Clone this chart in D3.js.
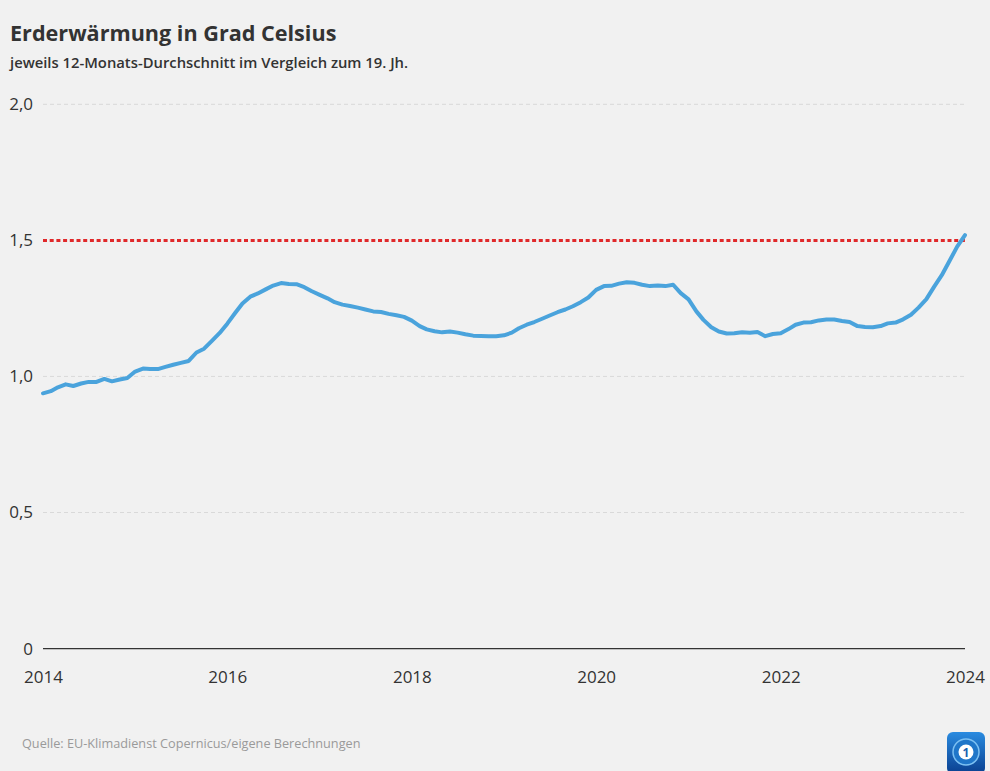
<!DOCTYPE html>
<html>
<head>
<meta charset="utf-8">
<script src="https://cdn.jsdelivr.net/npm/d3@7"></script>
<style>
  body { margin: 0; background-color: #f1f1f1; }
  text { font-family: "Open Sans", "Noto Sans", sans-serif; }
</style>
</head>
<body>
<script>

// Monatswerte ab Januar 2014 (12-Monats-Mittel, Grad über 19. Jh.)
var startMonth = "2014-01";
var values = [
  0.938, 0.946, 0.960, 0.971, 0.965, 0.974, 0.980, 0.980, 0.991, 0.982, 0.989, 0.994,
  1.018, 1.029, 1.027, 1.027, 1.035, 1.043, 1.050, 1.057, 1.088, 1.102, 1.131, 1.159,
  1.194, 1.233, 1.268, 1.293, 1.305, 1.320, 1.334, 1.343, 1.340, 1.339, 1.328, 1.313,
  1.300, 1.287, 1.273, 1.264, 1.259, 1.253, 1.246, 1.239, 1.237, 1.230, 1.225, 1.219,
  1.205, 1.185, 1.173, 1.166, 1.162, 1.165, 1.161, 1.155, 1.150, 1.149, 1.148, 1.148,
  1.151, 1.161, 1.177, 1.190, 1.200, 1.212, 1.224, 1.236, 1.246, 1.258, 1.273, 1.290,
  1.318, 1.332, 1.333, 1.341, 1.346, 1.344, 1.337, 1.332, 1.334, 1.332, 1.337, 1.306,
  1.283, 1.239, 1.208, 1.181, 1.165, 1.158, 1.159, 1.162, 1.161, 1.163, 1.148, 1.156,
  1.159, 1.174, 1.190, 1.198, 1.199, 1.206, 1.209, 1.209, 1.204, 1.200, 1.185, 1.182,
  1.181, 1.185, 1.195, 1.198, 1.210, 1.227, 1.253, 1.284, 1.330, 1.372, 1.425, 1.477,
  1.519
];

var yTicks = [0, 0.5, 1.0, 1.5, 2.0];
var xTickYears = [2014, 2016, 2018, 2020, 2022, 2024];
var limit = 1.5;

var title = "Erderwärmung in Grad Celsius";
var subtitle = "jeweils 12-Monats-Durchschnitt im Vergleich zum 19. Jh.";
var source = "Quelle: EU-Klimadienst Copernicus/eigene Berechnungen";

var wx = 990,
    hy = 771;

var svg = d3.select("body")
    .append("svg")
    .attr("width", wx)
    .attr("height", hy);

svg.append("rect")
    .attr("width", wx)
    .attr("height", hy)
    .attr("fill", "#f1f1f1");

var parseMonth = d3.timeParse("%Y-%m");
var t0 = parseMonth(startMonth);
var data = values.map(function(v, i) {
  return { date: d3.timeMonth.offset(t0, i), value: v };
});

var x = d3.scaleTime()
    .domain([new Date(2014, 0, 1), new Date(2024, 0, 1)])
    .range([43, 965]);

var y = d3.scaleLinear()
    .domain([0, 2])
    .range([648.6, 104.3]);

// Titel
svg.append("text")
    .attr("x", 10)
    .attr("y", 41)
    .attr("font-size", 21.6)
    .attr("font-weight", 700)
    .attr("fill", "#333")
    .text(title);

svg.append("text")
    .attr("x", 10)
    .attr("y", 68)
    .attr("font-size", 14.8)
    .attr("font-weight", 600)
    .attr("fill", "#333")
    .text(subtitle);

// Gitterlinien
svg.append("g")
    .selectAll("line")
    .data(yTicks.filter(function(d) { return d > 0 && d !== limit; }))
    .join("line")
    .attr("x1", x.range()[0])
    .attr("x2", x.range()[1])
    .attr("y1", function(d) { return y(d); })
    .attr("y2", function(d) { return y(d); })
    .attr("stroke", "#d9d9d9")
    .attr("stroke-width", 1)
    .attr("stroke-dasharray", "4,3");

// y-Beschriftung
var fmt = function(d) { return d === 0 ? "0" : d3.format(".1f")(d).replace(".", ","); };
svg.append("g")
    .selectAll("text")
    .data(yTicks)
    .join("text")
    .attr("x", 33)
    .attr("y", function(d) { return y(d); })
    .attr("dy", "0.35em")
    .attr("text-anchor", "end")
    .attr("font-size", 17)
    .attr("fill", "#333")
    .text(fmt);

// Nulllinie
svg.append("line")
    .attr("x1", x.range()[0])
    .attr("x2", x.range()[1])
    .attr("y1", y(0))
    .attr("y2", y(0))
    .attr("stroke", "#333")
    .attr("stroke-width", 1.2);

// x-Achse
var xAxis = d3.axisBottom(x)
    .tickValues(xTickYears.map(function(yr) { return new Date(yr, 0, 1); }))
    .tickFormat(d3.timeFormat("%Y"))
    .tickSize(0)
    .tickPadding(0);

var gx = svg.append("g")
    .attr("transform", "translate(0," + 671 + ")")
    .call(xAxis);
gx.select(".domain").remove();
gx.selectAll("text")
    .attr("font-family", null)
    .attr("font-size", 17)
    .attr("fill", "#333");

// 1,5-Grad-Grenze
svg.append("line")
    .attr("x1", x.range()[0])
    .attr("x2", x.range()[1])
    .attr("y1", y(limit))
    .attr("y2", y(limit))
    .attr("stroke", "#e0282a")
    .attr("stroke-width", 3)
    .attr("stroke-dasharray", "4,2.7");

// Kurve
var line = d3.line()
    .x(function(d) { return x(d.date); })
    .y(function(d) { return y(d.value); });

svg.append("path")
    .datum(data)
    .attr("d", line)
    .attr("fill", "none")
    .attr("stroke", "#4aa3dc")
    .attr("stroke-width", 4)
    .attr("stroke-linejoin", "round")
    .attr("stroke-linecap", "round");

// Quelle
svg.append("text")
    .attr("x", 22)
    .attr("y", 748)
    .attr("font-size", 12.7)
    .attr("fill", "#9a9a9a")
    .text(source);

// Logo
var defs = svg.append("defs");
var grad = defs.append("linearGradient")
    .attr("id", "logoGrad")
    .attr("x1", 0).attr("y1", 0).attr("x2", 0).attr("y2", 1);
grad.append("stop").attr("offset", "0%").attr("stop-color", "#2a8be0");
grad.append("stop").attr("offset", "100%").attr("stop-color", "#0a3f8f");

var logo = svg.append("g").attr("transform", "translate(947,732)");
logo.append("rect")
    .attr("width", 38)
    .attr("height", 42)
    .attr("rx", 6)
    .attr("fill", "url(#logoGrad)");
logo.append("circle")
    .attr("cx", 19)
    .attr("cy", 20)
    .attr("r", 13)
    .attr("fill", "#1f76c9")
    .attr("stroke", "#7cc0f2")
    .attr("stroke-width", 1.5);
logo.append("circle")
    .attr("cx", 19)
    .attr("cy", 20)
    .attr("r", 7.5)
    .attr("fill", "#ffffff");
logo.append("text")
    .attr("x", 19)
    .attr("y", 24.5)
    .attr("text-anchor", "middle")
    .attr("font-size", 12)
    .attr("font-weight", 700)
    .attr("fill", "#1a5fb0")
    .text("1");

</script>
</body>
</html>
